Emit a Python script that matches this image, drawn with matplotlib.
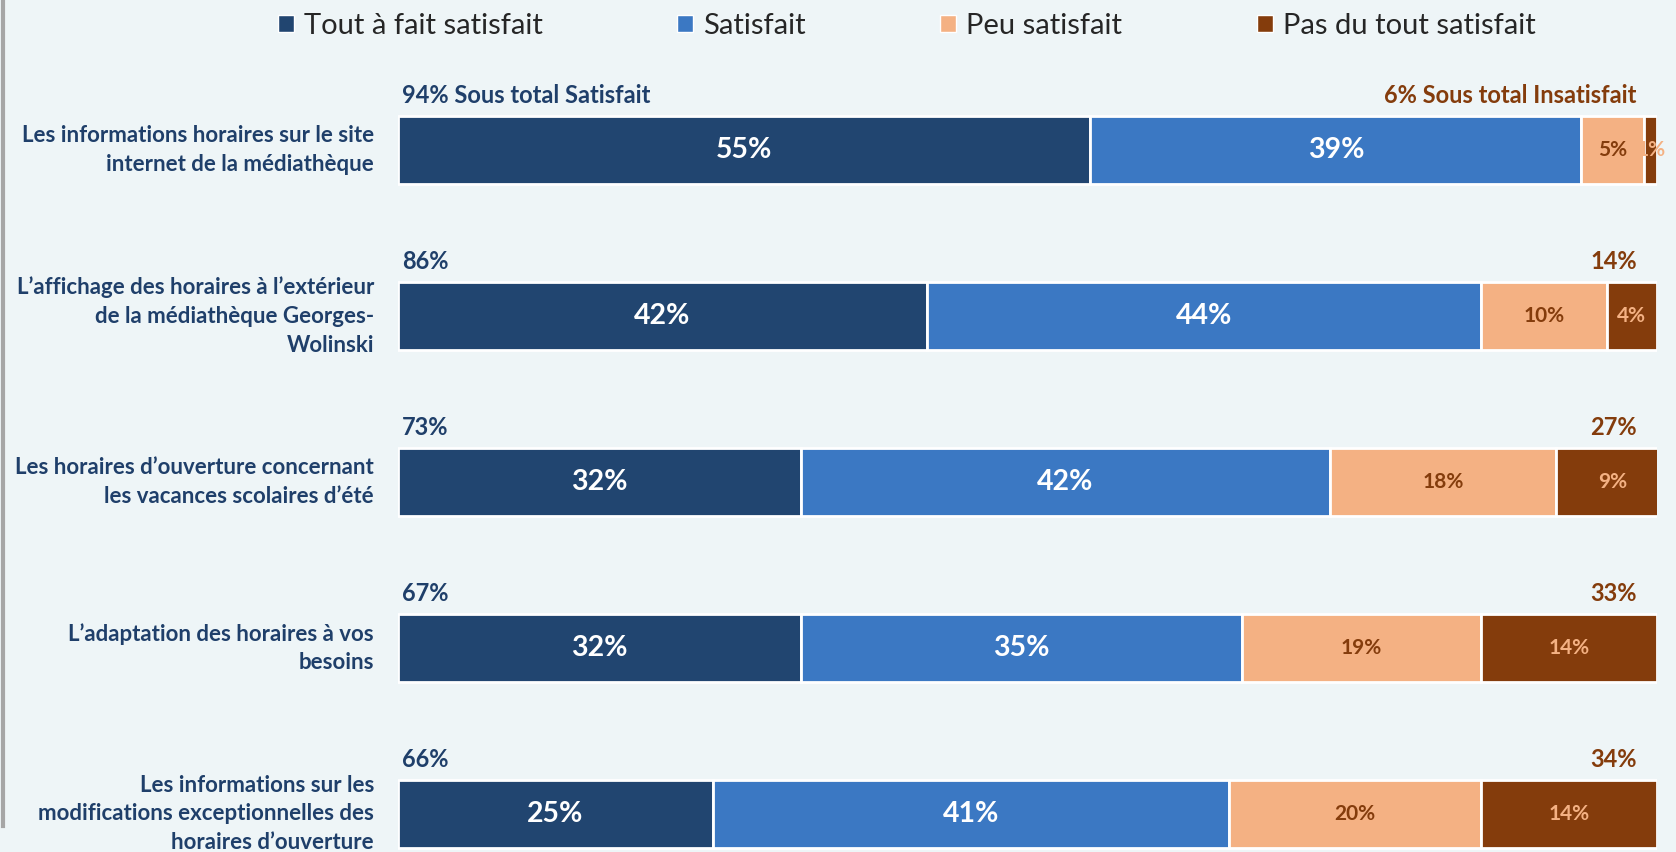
import matplotlib.pyplot as plt
from matplotlib.patches import Patch
from matplotlib.lines import Line2D

plt.rcParams['font.family'] = ['Lato', 'DejaVu Sans']

categories = [
    "Les informations horaires sur le site\ninternet de la médiathèque",
    "L\u2019affichage des horaires à l\u2019extérieur\nde la médiathèque Georges-\nWolinski",
    "Les horaires d\u2019ouverture concernant\nles vacances scolaires d\u2019été",
    "L\u2019adaptation des horaires à vos\nbesoins",
    "Les informations sur les\nmodifications exceptionnelles des\nhoraires d\u2019ouverture",
]
tout_a_fait = [55, 42, 32, 32, 25]
satisfait = [39, 44, 42, 35, 41]
peu_satisfait = [5, 10, 18, 19, 20]
pas_du_tout = [1, 4, 9, 14, 14]
sous_total_sat = [94, 86, 73, 67, 66]
sous_total_insat = [6, 14, 27, 33, 34]

series_names = ["Tout à fait satisfait", "Satisfait", "Peu satisfait", "Pas du tout satisfait"]
colors = ["#214570", "#3b78c3", "#f4b183", "#843c0c"]
label_colors = ["white", "white", "#843c0c", "#f4b183"]
label_sizes = [20.5, 20.5, 15, 15]
bg = "#eef5f7"
navy = "#1f3f6a"
brown = "#843c0c"

fig = plt.figure(figsize=(16.76, 8.52), dpi=100, facecolor=bg)
ax = fig.add_axes([398 / 1676, 0, (1657 - 398) / 1676, 1])
ax.set_facecolor(bg)
ax.set_xlim(0, 100)
ax.set_ylim(4.229, -0.904)
ax.axis('off')

rows = range(len(categories))
left = [0] * len(categories)
for series, color, lc, ls in zip([tout_a_fait, satisfait, peu_satisfait, pas_du_tout],
                                 colors, label_colors, label_sizes):
    bars = ax.barh(rows, series, left=left, height=0.407, color=color,
                   edgecolor='white', linewidth=2)
    for i, (b, v) in enumerate(zip(bars, series)):
        ax.text(left[i] + v / 2, i, f"{v}%", ha='center', va='center',
                color=lc, fontsize=ls, fontweight='bold', clip_on=False)
    left = [l + v for l, v in zip(left, series)]

for i, cat in enumerate(categories):
    ax.text(-1.9, i, cat, ha='right', va='center', color=navy, fontsize=16,
            fontweight='bold', linespacing=1.45)
    sat = f"{sous_total_sat[i]}%" + (" Sous total Satisfait" if i == 0 else "")
    insat = f"{sous_total_insat[i]}%" + (" Sous total Insatisfait" if i == 0 else "")
    ax.text(0.3, i - 0.33, sat, ha='left', va='center', color=navy,
            fontsize=17, fontweight='bold')
    ax.text(98.4, i - 0.33, insat, ha='right', va='center', color=brown,
            fontsize=17, fontweight='bold')

handles = [Patch(facecolor=c, edgecolor='white') for c in colors]
fig.legend(handles, series_names, loc='center', bbox_to_anchor=(0.541, 1 - 26 / 852),
           ncol=4, frameon=False, fontsize=21, handlelength=0.55, handleheight=0.55,
           handletextpad=0.35, columnspacing=4.6, labelcolor='#262626')

# left edge of the panel frame
fig.add_artist(Line2D([3 / 1676, 3 / 1676], [0.03, 1], color='#a6a6a6', linewidth=3))

fig.savefig("out.png", dpi=100, facecolor=bg)
